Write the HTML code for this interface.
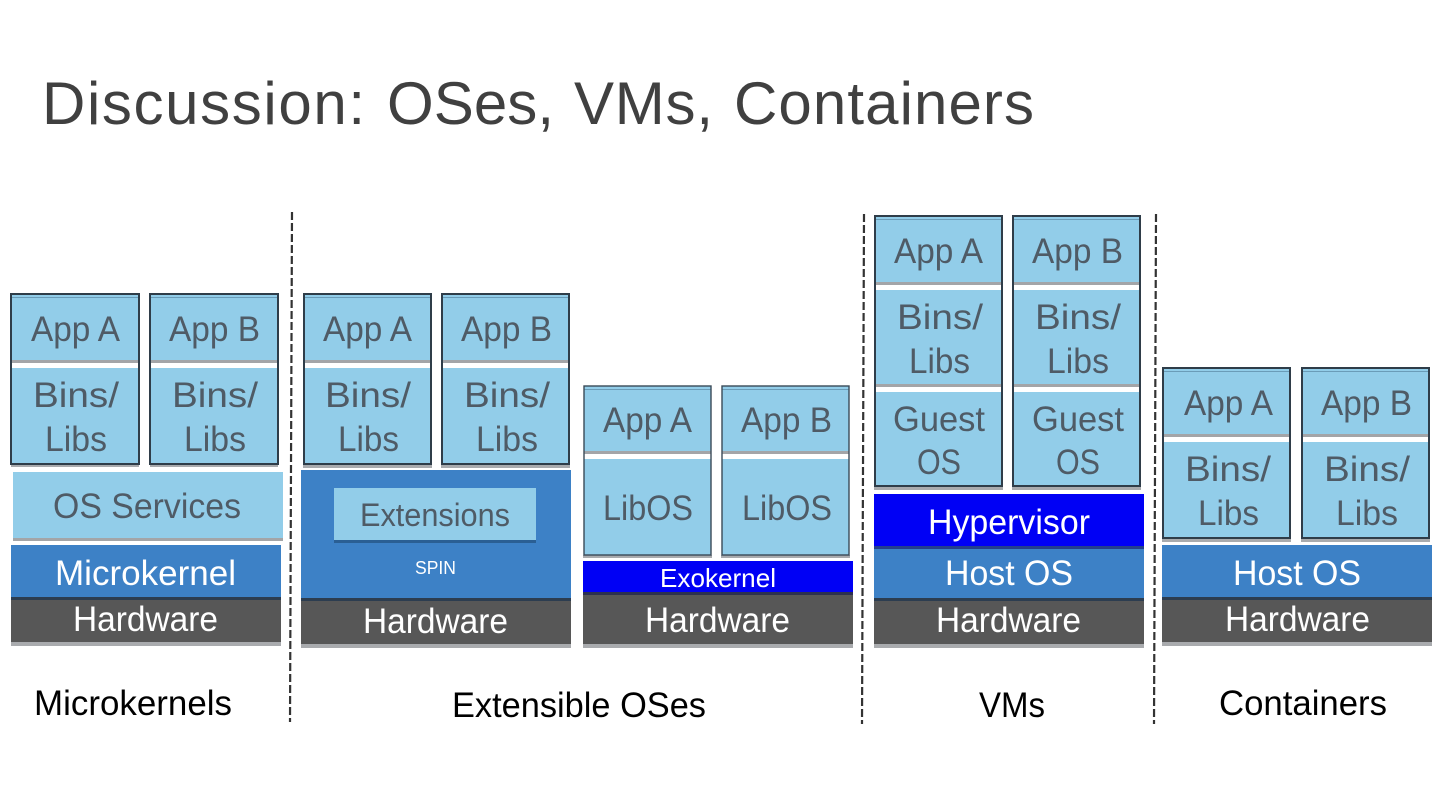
<!DOCTYPE html>
<html><head><meta charset="utf-8"><title>Discussion: OSes, VMs, Containers</title>
<style>
html,body{margin:0;padding:0;background:#fff;width:1440px;height:810px;overflow:hidden}
svg{display:block}
text{font-family:"Liberation Sans",sans-serif}
.d,.w,.k{transform:translate(0,.2px)}
.d{fill:#4f5b66;font-size:35px}
.w{fill:#fff;font-size:35px}
.k{fill:#000;font-size:35px}
.t{font-size:60px;fill:#404040}
.c{fill:#92cde9}
.g{fill:#a3a5a8}
.o{fill:none;stroke:#2f3d49;stroke-width:2}
.n{fill:none;stroke:#3a4a57;stroke-width:1.4}
.h{fill:#6a9cb8}
.s{fill:#a9abae}
.l{stroke:#333;stroke-width:2.2;stroke-dasharray:8 3;fill:none}
</style></head><body>
<svg width="1440" height="810" viewBox="0 0 1440 810" xmlns="http://www.w3.org/2000/svg">
<rect width="1440" height="810" fill="#fff"/>
<text class="t" x="42" y="124" textLength="323" lengthAdjust="spacing">Discussion:</text>
<text class="t" x="387" y="124" textLength="167" lengthAdjust="spacing">OSes,</text>
<text class="t" x="574" y="124" textLength="139" lengthAdjust="spacing">VMs,</text>
<text class="t" x="734" y="124" textLength="300" lengthAdjust="spacing">Containers</text>

<!-- dashed -->
<line class="l" x1="292" y1="212" x2="290" y2="722"/>
<line class="l" x1="864" y1="214" x2="862" y2="724"/>
<line class="l" x1="1156" y1="214" x2="1154" y2="724"/>

<!-- Microkernels -->
<rect class="s" x="11" y="464" width="128" height="3"/><rect class="s" x="150" y="464" width="128" height="3"/>
<rect class="c" x="11" y="294" width="128" height="170"/><rect class="h" x="11" y="297" width="128" height="1"/><rect class="g" x="11" y="360" width="128" height="3"/><rect fill="#fff" x="11" y="363" width="128" height="5"/><rect class="o" x="11" y="294" width="128" height="170"/>
<rect class="c" x="150" y="294" width="128" height="170"/><rect class="h" x="150" y="297" width="128" height="1"/><rect class="g" x="150" y="360" width="128" height="3"/><rect fill="#fff" x="150" y="363" width="128" height="5"/><rect class="o" x="150" y="294" width="128" height="170"/>
<rect class="c" x="13" y="472" width="270" height="66"/><rect class="g" x="13" y="538" width="270" height="3"/>
<rect fill="#3d81c6" x="11" y="545" width="270" height="52"/><rect fill="#2c3d50" x="11" y="597" width="270" height="3"/>
<rect fill="#575757" x="11" y="600" width="270" height="42"/><rect class="s" x="11" y="642" width="270" height="4"/>
<text class="d" x="31" y="341" textLength="89" lengthAdjust="spacingAndGlyphs">App A</text>
<text class="d" x="169" y="341" textLength="91" lengthAdjust="spacingAndGlyphs">App B</text>
<text class="d" x="33" y="407" textLength="86" lengthAdjust="spacingAndGlyphs">Bins/</text>
<text class="d" x="45" y="451" textLength="62" lengthAdjust="spacingAndGlyphs">Libs</text>
<text class="d" x="172" y="407" textLength="86" lengthAdjust="spacingAndGlyphs">Bins/</text>
<text class="d" x="184" y="451" textLength="62" lengthAdjust="spacingAndGlyphs">Libs</text>
<text class="d" x="53" y="518" textLength="188" lengthAdjust="spacingAndGlyphs">OS Services</text>
<text class="w" x="55" y="585" textLength="181" lengthAdjust="spacingAndGlyphs">Microkernel</text>
<text class="w" x="73" y="631" textLength="145" lengthAdjust="spacingAndGlyphs">Hardware</text>
<text class="k" x="34" y="715" textLength="198" lengthAdjust="spacingAndGlyphs">Microkernels</text>

<!-- SPIN -->
<rect class="s" x="303" y="464" width="129" height="4"/><rect class="s" x="441" y="464" width="129" height="4"/>
<rect class="c" x="304" y="294" width="127" height="170"/><rect class="h" x="304" y="297" width="127" height="1"/><rect class="g" x="304" y="360" width="127" height="3"/><rect fill="#fff" x="304" y="363" width="127" height="5"/><rect class="o" x="304" y="294" width="127" height="170"/>
<rect class="c" x="442" y="294" width="127" height="170"/><rect class="h" x="442" y="297" width="127" height="1"/><rect class="g" x="442" y="360" width="127" height="3"/><rect fill="#fff" x="442" y="363" width="127" height="5"/><rect class="o" x="442" y="294" width="127" height="170"/>
<rect fill="#3d81c6" x="301" y="470" width="270" height="128"/><rect fill="#2c3d50" x="301" y="598" width="270" height="3"/>
<rect class="c" x="334" y="488" width="202" height="52"/><rect fill="#2a5f94" x="334" y="540" width="202" height="3"/>
<rect fill="#575757" x="301" y="601" width="270" height="43"/><rect class="s" x="301" y="644" width="270" height="4"/>
<text class="d" x="323" y="341" textLength="89" lengthAdjust="spacingAndGlyphs">App A</text>
<text class="d" x="461" y="341" textLength="91" lengthAdjust="spacingAndGlyphs">App B</text>
<text class="d" x="325" y="407" textLength="86" lengthAdjust="spacingAndGlyphs">Bins/</text>
<text class="d" x="338" y="451" textLength="61" lengthAdjust="spacingAndGlyphs">Libs</text>
<text class="d" x="464" y="407" textLength="86" lengthAdjust="spacingAndGlyphs">Bins/</text>
<text class="d" x="476" y="451" textLength="62" lengthAdjust="spacingAndGlyphs">Libs</text>
<text class="d" x="360" y="526" textLength="150" lengthAdjust="spacingAndGlyphs" style="font-size:32px">Extensions</text>
<text x="415" y="574" textLength="41" lengthAdjust="spacingAndGlyphs" style="font-size:18px;fill:#fff">SPIN</text>
<text class="w" x="363" y="633" textLength="145" lengthAdjust="spacingAndGlyphs">Hardware</text>

<!-- Exokernel -->
<rect class="s" x="583" y="555" width="129" height="3"/><rect class="s" x="721" y="555" width="129" height="3"/>
<rect class="c" x="584" y="386" width="127" height="169"/><rect class="h" x="584" y="389" width="127" height="1"/><rect class="g" x="584" y="451" width="127" height="3"/><rect fill="#fff" x="584" y="454" width="127" height="5"/><rect class="n" x="584" y="386" width="127" height="169"/>
<rect class="c" x="722" y="386" width="127" height="169"/><rect class="h" x="722" y="389" width="127" height="1"/><rect class="g" x="722" y="451" width="127" height="3"/><rect fill="#fff" x="722" y="454" width="127" height="5"/><rect class="n" x="722" y="386" width="127" height="169"/>
<rect fill="#0000f5" x="583" y="561" width="270" height="31"/><rect fill="#2c3050" x="583" y="592" width="270" height="3"/>
<rect fill="#575757" x="583" y="595" width="270" height="49"/><rect class="s" x="583" y="644" width="270" height="4"/>
<text class="d" x="603" y="432" textLength="89" lengthAdjust="spacingAndGlyphs">App A</text>
<text class="d" x="741" y="432" textLength="91" lengthAdjust="spacingAndGlyphs">App B</text>
<text class="d" x="603" y="520" textLength="90" lengthAdjust="spacingAndGlyphs">LibOS</text>
<text class="d" x="742" y="520" textLength="90" lengthAdjust="spacingAndGlyphs">LibOS</text>
<text class="w" x="660" y="587" textLength="116" lengthAdjust="spacingAndGlyphs" style="font-size:26px">Exokernel</text>
<text class="w" x="645" y="632" textLength="145" lengthAdjust="spacingAndGlyphs">Hardware</text>
<text class="k" x="452" y="717" textLength="254" lengthAdjust="spacingAndGlyphs">Extensible OSes</text>

<!-- VMs -->
<rect class="s" x="874" y="486" width="129" height="4"/><rect class="s" x="1012" y="486" width="129" height="4"/>
<rect class="c" x="875" y="216" width="127" height="270"/><rect class="h" x="875" y="219" width="127" height="1"/><rect class="g" x="875" y="282" width="127" height="3"/><rect fill="#fff" x="875" y="285" width="127" height="5"/><rect class="g" x="875" y="384" width="127" height="3"/><rect fill="#fff" x="875" y="387" width="127" height="5"/><rect class="o" x="875" y="216" width="127" height="270"/>
<rect class="c" x="1013" y="216" width="127" height="270"/><rect class="h" x="1013" y="219" width="127" height="1"/><rect class="g" x="1013" y="282" width="127" height="3"/><rect fill="#fff" x="1013" y="285" width="127" height="5"/><rect class="g" x="1013" y="384" width="127" height="3"/><rect fill="#fff" x="1013" y="387" width="127" height="5"/><rect class="o" x="1013" y="216" width="127" height="270"/>
<rect fill="#0000f5" x="874" y="494" width="270" height="52"/><rect fill="#243f8c" x="874" y="546" width="270" height="3"/>
<rect fill="#3d81c6" x="874" y="549" width="270" height="49"/><rect fill="#2c3d50" x="874" y="598" width="270" height="3"/>
<rect fill="#575757" x="874" y="601" width="270" height="43"/><rect class="s" x="874" y="644" width="270" height="4"/>
<text class="d" x="894" y="263" textLength="89" lengthAdjust="spacingAndGlyphs">App A</text>
<text class="d" x="1032" y="263" textLength="91" lengthAdjust="spacingAndGlyphs">App B</text>
<text class="d" x="897" y="329" textLength="86" lengthAdjust="spacingAndGlyphs">Bins/</text>
<text class="d" x="909" y="373" textLength="61" lengthAdjust="spacingAndGlyphs">Libs</text>
<text class="d" x="1035" y="329" textLength="86" lengthAdjust="spacingAndGlyphs">Bins/</text>
<text class="d" x="1047" y="373" textLength="62" lengthAdjust="spacingAndGlyphs">Libs</text>
<text class="d" x="893" y="431" textLength="92" lengthAdjust="spacingAndGlyphs">Guest</text>
<text class="d" x="917" y="474" textLength="44" lengthAdjust="spacingAndGlyphs">OS</text>
<text class="d" x="1032" y="431" textLength="92" lengthAdjust="spacingAndGlyphs">Guest</text>
<text class="d" x="1056" y="474" textLength="44" lengthAdjust="spacingAndGlyphs">OS</text>
<text class="w" x="928" y="534" textLength="162" lengthAdjust="spacingAndGlyphs">Hypervisor</text>
<text class="w" x="945" y="585" textLength="128" lengthAdjust="spacingAndGlyphs">Host OS</text>
<text class="w" x="936" y="632" textLength="145" lengthAdjust="spacingAndGlyphs">Hardware</text>
<text class="k" x="979" y="717" textLength="66" lengthAdjust="spacingAndGlyphs">VMs</text>

<!-- Containers -->
<rect class="s" x="1162" y="538" width="129" height="4"/><rect class="s" x="1301" y="538" width="129" height="4"/>
<rect class="c" x="1163" y="368" width="127" height="170"/><rect class="h" x="1163" y="371" width="127" height="1"/><rect class="g" x="1163" y="434" width="127" height="3"/><rect fill="#fff" x="1163" y="437" width="127" height="5"/><rect class="o" x="1163" y="368" width="127" height="170"/>
<rect class="c" x="1302" y="368" width="127" height="170"/><rect class="h" x="1302" y="371" width="127" height="1"/><rect class="g" x="1302" y="434" width="127" height="3"/><rect fill="#fff" x="1302" y="437" width="127" height="5"/><rect class="o" x="1302" y="368" width="127" height="170"/>
<rect fill="#3d81c6" x="1162" y="545" width="270" height="52"/><rect fill="#2c3d50" x="1162" y="597" width="270" height="3"/>
<rect fill="#575757" x="1162" y="600" width="270" height="42"/><rect class="s" x="1162" y="642" width="270" height="4"/>
<text class="d" x="1184" y="415" textLength="89" lengthAdjust="spacingAndGlyphs">App A</text>
<text class="d" x="1321" y="415" textLength="91" lengthAdjust="spacingAndGlyphs">App B</text>
<text class="d" x="1185" y="481" textLength="86" lengthAdjust="spacingAndGlyphs">Bins/</text>
<text class="d" x="1198" y="525" textLength="61" lengthAdjust="spacingAndGlyphs">Libs</text>
<text class="d" x="1324" y="481" textLength="86" lengthAdjust="spacingAndGlyphs">Bins/</text>
<text class="d" x="1336" y="525" textLength="62" lengthAdjust="spacingAndGlyphs">Libs</text>
<text class="w" x="1233" y="585" textLength="128" lengthAdjust="spacingAndGlyphs">Host OS</text>
<text class="w" x="1225" y="631" textLength="145" lengthAdjust="spacingAndGlyphs">Hardware</text>
<text class="k" x="1219" y="715" textLength="168" lengthAdjust="spacingAndGlyphs">Containers</text>
</svg>
</body></html>
